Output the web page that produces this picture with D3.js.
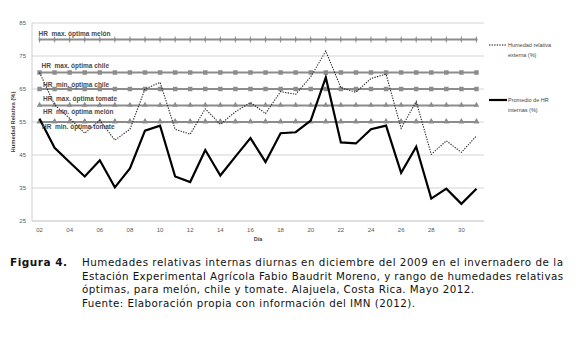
<!DOCTYPE html>
<html>
<head>
<meta charset="utf-8">
<script src="https://cdn.jsdelivr.net/npm/d3@7/dist/d3.min.js"></script>
<style>
  html, body { margin: 0; padding: 0; background: #fff; }
  svg { display: block; }
</style>
</head>
<body>
<svg id="chart" width="580" height="337"></svg>
<script>
// ---------- DATA ----------
const days = ["02","03","04","05","06","07","08","09","10","11","12","13","14","15","16","17","18","19","20","21","22","23","24","25","26","27","28","29","30","31"];
const tickLabels = ["02","04","06","08","10","12","14","16","18","20","22","24","26","28","30"];
const yTicks = [25, 35, 45, 55, 65, 75, 85];
const hrInternas = [56, 47.2, 42.8, 38.5, 43.4, 35.2, 40.9, 52.4, 53.9, 38.5, 36.8, 46.5, 38.8, 44.5, 50.1, 42.9, 51.6, 51.9, 55.4, 68.5, 48.8, 48.5, 52.8, 53.9, 39.6, 47.5, 31.8, 34.8, 30.2, 34.8];
const hrExterna = [70, 60.2, 56.1, 51.6, 55.5, 49.5, 52.8, 65, 67, 52.8, 51.3, 59, 54.3, 58.1, 60.9, 57.6, 64.2, 63.4, 68.7, 76.5, 65.4, 64, 68.2, 69.5, 53.1, 61.2, 45.2, 49.3, 45.8, 50.8];
const refNames = ["HR  max. óptima melón", "HR  max. óptima chile", "HR  min. óptima chile", "HR  max. óptima tomate", "HR  min. óptima melón", "HR  min. óptima tomate"];
const refLevels = [80, 70, 65, 60, 55, 55];
const refMarkers = ["diamond", "square", "square", "triangle", "triangle", "triangle"];
const legendNames = [["Humedad relativa", "externa (%)"], ["Promedio de HR", "internas (%)"]];
const captionLines = [
  "Humedades relativas internas diurnas en diciembre del 2009 en el invernadero de la",
  "Estación Experimental Agrícola Fabio Baudrit Moreno, y rango de humedades relativas",
  "óptimas, para melón, chile y tomate. Alajuela, Costa Rica. Mayo 2012.",
  "Fuente: Elaboración propia con información del IMN (2012)."
];

// ---------- LAYOUT ----------
const svg = d3.select("#chart");
const plot = { left: 32, right: 484, top: 23, bottom: 221 };
const x = d3.scaleBand().domain(days).range([plot.left, plot.right]);
const xc = d => x(d) + x.bandwidth() / 2;
const y = d3.scaleLinear().domain([25, 85]).range([plot.bottom, plot.top]);
const refGray = "#8c8c8c";

// gridlines
svg.append("g")
  .selectAll("line").data(yTicks).join("line")
  .attr("x1", plot.left).attr("x2", plot.right)
  .attr("y1", d => y(d)).attr("y2", d => y(d))
  .attr("stroke", d => d === 25 ? "#bdbdbd" : "#d4d4d4").attr("stroke-width", 1);
// left axis line
svg.append("line").attr("x1", plot.left).attr("x2", plot.left)
  .attr("y1", plot.top).attr("y2", plot.bottom).attr("stroke", "#cfcfcf");

// y axis ticks
const yAxis = d3.axisLeft(y).tickValues(yTicks).tickSize(0).tickPadding(6);
const gy = svg.append("g").attr("transform", `translate(${plot.left},0)`).call(yAxis);
gy.select(".domain").remove();
gy.selectAll("text").attr("font-family", "Liberation Sans, Arial, sans-serif")
  .attr("font-size", 6).attr("fill", "#595959");

// x axis ticks
const xAxis = d3.axisBottom(x).tickValues(tickLabels).tickSize(0).tickPadding(7);
const gx = svg.append("g").attr("transform", `translate(0,${plot.bottom})`).call(xAxis);
gx.select(".domain").remove();
gx.selectAll("text").attr("font-family", "Liberation Sans, Arial, sans-serif")
  .attr("font-size", 6).attr("fill", "#595959");

// axis titles
svg.append("text").attr("x", 258).attr("y", 241).attr("text-anchor", "middle")
  .attr("font-family", "Liberation Sans, Arial, sans-serif").attr("font-size", 5.5)
  .attr("font-weight", "bold").attr("fill", "#444").text("Día");
svg.append("text").attr("transform", `translate(15,${(plot.top + plot.bottom) / 2}) rotate(-90)`)
  .attr("text-anchor", "middle")
  .attr("font-family", "Liberation Sans, Arial, sans-serif").attr("font-size", 5.8)
  .attr("font-weight", "bold").attr("fill", "#444").text("Humedad Relativa  (%)");

// reference lines
const refLine = d3.line().x(d => xc(d.day)).y(d => y(d.v));
refLevels.forEach((lvl, i) => {
  const pts = days.map(d => ({ day: d, v: lvl }));
  const g = svg.append("g");
  g.append("path").datum(pts).attr("d", refLine)
    .attr("fill", "none").attr("stroke", refGray).attr("stroke-width", 2);
  const m = refMarkers[i];
  let sym, size;
  if (m === "square") { sym = d3.symbolSquare; size = 20; }
  else if (m === "triangle") { sym = d3.symbolTriangle; size = 14; }
  else { sym = d3.symbolDiamond; size = 8; }
  g.selectAll("path.mk").data(pts).join("path").attr("class", "mk")
    .attr("d", d3.symbol().type(sym).size(size))
    .attr("transform", d => `translate(${xc(d.day)},${y(d.v) - (m === "triangle" ? 0.5 : 0)})` + (m === "diamond" ? " scale(0.7,1.4)" : ""))
    .attr("fill", refGray);
});

// data lines
const dataLine = d3.line().x((d, i) => xc(days[i])).y(d => y(d));
svg.append("path").datum(hrExterna).attr("d", dataLine)
  .attr("fill", "none").attr("stroke", "#222").attr("stroke-width", 1.1)
  .attr("stroke-dasharray", "1.3,1.3");
svg.append("path").datum(hrInternas).attr("d", dataLine)
  .attr("fill", "none").attr("stroke", "#000").attr("stroke-width", 2.2)
  .attr("stroke-linejoin", "miter");

// reference labels
const labelPos = [[38.5, 35.5], [41.5, 68], [43, 86.5], [43, 100.5], [43, 114], [42, 129]];
refNames.forEach((n, i) => {
  svg.append("text").attr("x", labelPos[i][0]).attr("y", labelPos[i][1])
    .attr("font-family", "Liberation Sans, Arial, sans-serif").attr("font-size", 6.5)
    .attr("font-weight", "bold").attr("fill", "#4a4a4a")
    .style("white-space", "pre").text(n);
});

// legend
const legY = [45, 100];
legendNames.forEach((lines, i) => {
  svg.append("line").attr("x1", 489).attr("x2", 507).attr("y1", legY[i]).attr("y2", legY[i])
    .attr("stroke", "#000").attr("stroke-width", i === 0 ? 1.1 : 2.2)
    .attr("stroke-dasharray", i === 0 ? "1.3,1.3" : null);
  lines.forEach((t, j) => {
    svg.append("text").attr("x", 508).attr("y", legY[i] + 2 + j * 9.5)
      .attr("font-family", "Liberation Sans, Arial, sans-serif").attr("font-size", 5.5)
      .attr("fill", "#444").text(t);
  });
});

// caption
svg.append("text").attr("x", 10).attr("y", 266)
  .attr("font-family", "DejaVu Sans, Verdana, sans-serif").attr("font-size", 10.5)
  .attr("font-weight", "bold").attr("fill", "#111")
  .attr("textLength", 57).attr("lengthAdjust", "spacing").text("Figura 4.");
const capLen = [481, 481, 392, 333];
captionLines.forEach((t, i) => {
  svg.append("text").attr("x", 82).attr("y", 266 + i * 13.7)
    .attr("font-family", "DejaVu Sans, Verdana, sans-serif").attr("font-size", 10.3)
    .attr("fill", "#111")
    .attr("textLength", capLen[i]).attr("lengthAdjust", "spacing")
    .text(t);
});
</script>
</body>
</html>
